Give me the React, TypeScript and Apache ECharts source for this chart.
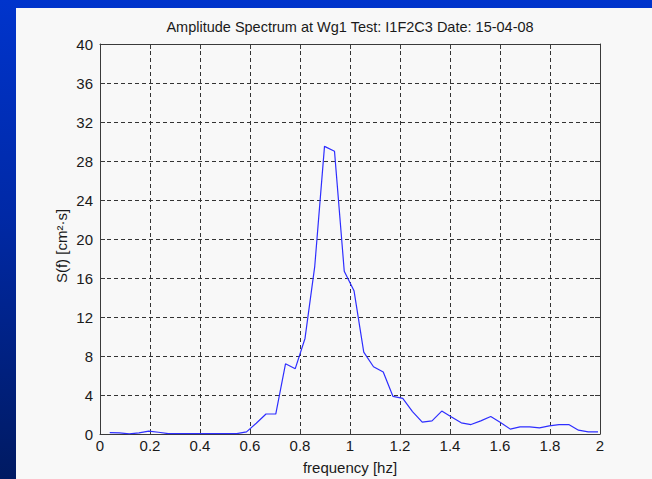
import React, { useEffect, useRef } from "react";
import * as echarts from "echarts";

const TITLE = "Amplitude Spectrum at Wg1 Test: I1F2C3 Date: 15-04-08";
const X_NAME = "frequency [hz]";
const Y_NAME = "S(f) [cm²·s]";

const FREQ = [
  0.039, 0.078, 0.117, 0.156, 0.195, 0.234, 0.273, 0.313, 0.352, 0.391, 0.430,
  0.469, 0.508, 0.547, 0.586, 0.625, 0.664, 0.703, 0.742, 0.781, 0.820, 0.859,
  0.898, 0.938, 0.977, 1.016, 1.055, 1.094, 1.133, 1.172, 1.211, 1.250, 1.289,
  1.328, 1.367, 1.406, 1.445, 1.484, 1.523, 1.563, 1.602, 1.641, 1.680, 1.719,
  1.758, 1.797, 1.836, 1.875, 1.914, 1.953, 1.992,
];
const SPEC = [
  0.15, 0.12, 0.02, 0.12, 0.3, 0.18, 0.03, 0.03, 0.03, 0.03, 0.03, 0.03, 0.03,
  0.03, 0.22, 1.1, 2.05, 2.05, 7.2, 6.7, 9.8, 17.2, 29.5, 29.0, 16.7, 14.7, 8.4,
  6.9, 6.35, 3.85, 3.65, 2.3, 1.22, 1.35, 2.35, 1.75, 1.15, 0.97, 1.35, 1.8,
  1.18, 0.5, 0.73, 0.73, 0.63, 0.83, 0.97, 0.97, 0.39, 0.22, 0.22,
];

const X_MIN = 0;
const X_MAX = 2;
const X_STEP = 0.2;
const Y_MIN = 0;
const Y_MAX = 40;
const Y_STEP = 4;

const FONT = "'Liberation Sans', Arial, Helvetica, sans-serif";

export default function App() {
  const ref = useRef<HTMLDivElement>(null);

  useEffect(() => {
    if (!ref.current) return;
    const chart = echarts.init(ref.current, undefined, { renderer: "svg" });
    const axisLineStyle = { color: "#3a3a3a", width: 1 };
    const tick = { show: true, inside: true, length: 5, lineStyle: axisLineStyle };
    chart.setOption({
      animation: false,
      backgroundColor: "#f8f8f8",
      grid: { left: 84, top: 36, width: 500, height: 390, containLabel: false },
      xAxis: [
        {
          type: "value",
          min: X_MIN,
          max: X_MAX,
          interval: X_STEP,
          position: "bottom",
          axisLine: { show: true, onZero: false, lineStyle: axisLineStyle },
          axisTick: tick,
          axisLabel: {
            show: true,
            margin: 4,
            color: "#1a1a1a",
            fontSize: 15,
            fontFamily: FONT,
            formatter: (v: number) => String(+v.toFixed(1)),
          },
          splitLine: {
            show: true,
            lineStyle: { color: "#333", type: [4, 3], width: 1 },
          },
        },
        {
          type: "value",
          min: X_MIN,
          max: X_MAX,
          interval: X_STEP,
          position: "top",
          axisLine: { show: true, onZero: false, lineStyle: axisLineStyle },
          axisTick: tick,
          axisLabel: { show: false },
          splitLine: { show: false },
        },
      ],
      yAxis: [
        {
          type: "value",
          min: Y_MIN,
          max: Y_MAX,
          interval: Y_STEP,
          position: "left",
          axisLine: { show: true, onZero: false, lineStyle: axisLineStyle },
          axisTick: tick,
          axisLabel: {
            show: true,
            margin: 7,
            color: "#1a1a1a",
            fontSize: 15,
            fontFamily: FONT,
          },
          splitLine: {
            show: true,
            lineStyle: { color: "#333", type: [4, 3], width: 1 },
          },
        },
        {
          type: "value",
          min: Y_MIN,
          max: Y_MAX,
          interval: Y_STEP,
          position: "right",
          axisLine: { show: true, onZero: false, lineStyle: axisLineStyle },
          axisTick: tick,
          axisLabel: { show: false },
          splitLine: { show: false },
        },
      ],
      series: [
        {
          type: "line",
          xAxisIndex: 0,
          yAxisIndex: 0,
          data: FREQ.map((f, i) => [f, SPEC[i]]),
          showSymbol: false,
          symbol: "none",
          lineStyle: { color: "#2e2eff", width: 1.2 },
          silent: true,
        },
      ],
      graphic: [
        {
          type: "text",
          x: 334,
          y: 19,
          style: {
            text: TITLE,
            fill: "#1a1a1a",
            fontSize: 14.5,
            fontFamily: FONT,
            textAlign: "center",
            textVerticalAlign: "middle",
          },
        },
        {
          type: "text",
          x: 334,
          y: 459,
          style: {
            text: X_NAME,
            fill: "#1a1a1a",
            fontSize: 15,
            fontFamily: FONT,
            textAlign: "center",
            textVerticalAlign: "middle",
          },
        },
        {
          type: "text",
          x: 45,
          y: 238,
          rotation: Math.PI / 2,
          style: {
            text: Y_NAME,
            fill: "#1a1a1a",
            fontSize: 15,
            fontFamily: FONT,
            textAlign: "center",
            textVerticalAlign: "middle",
          },
        },
      ],
    });
    return () => chart.dispose();
  }, []);

  return (
    <div
      style={{
        position: "fixed",
        left: 0,
        top: 0,
        width: 652,
        height: 479,
        background: "linear-gradient(180deg, #0034cc 0%, #0029a6 45%, #001a62 100%)",
        overflow: "hidden",
      }}
    >
      <div
        ref={ref}
        style={{ position: "absolute", left: 16, top: 8, width: 636, height: 471 }}
      />
    </div>
  );
}
